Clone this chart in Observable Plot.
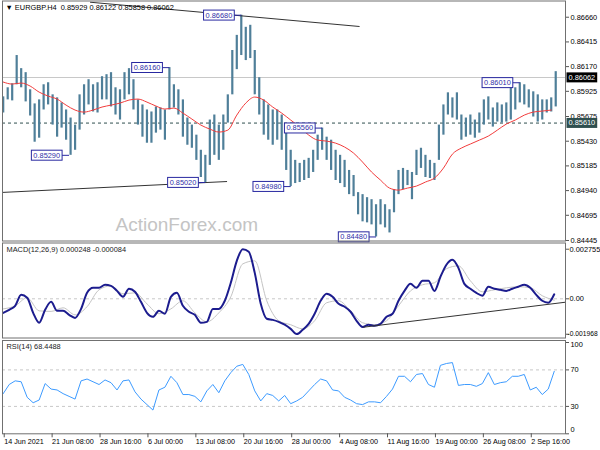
<!DOCTYPE html>
<html><head><meta charset="utf-8">
<script src="https://cdn.jsdelivr.net/npm/d3@7"></script>
<script src="https://cdn.jsdelivr.net/npm/@observablehq/plot@0.6"></script>
<style>
body{margin:0;background:#fff;}
#wrap{position:relative;width:600px;height:450px;overflow:hidden;background:#fff;}
#wrap svg{position:absolute;left:0;overflow:visible;}
</style></head><body><div id="wrap"></div>
<script>
// ---------- DATA ----------
const symbolTitle = "▼ EURGBP.H4  0.85929 0.86122 0.85858 0.86062";
const macdTitle = "MACD(12,26,9) 0.000248 -0.000084";
const rsiTitle = "RSI(14) 68.4488";
const watermark = "ActionForex.com";

// each drawn bar spans 3 H4 bars (bar index step)
const barStep = 3;
const highs = [
0.8587,0.8596,0.8600,0.8628,0.8615,0.8611,0.8594,0.8580,0.8584,0.8599,
0.8601,0.8589,0.8586,0.8581,0.8574,0.8566,0.8559,0.8589,0.8599,0.8604,
0.8599,0.8601,0.8607,0.8609,0.8611,0.8596,0.8594,0.8611,0.8615,0.8604,
0.8584,0.8579,0.8574,0.8572,0.8577,0.8576,0.8574,0.8616,0.8599,0.8594,
0.8584,0.8566,0.8559,0.8549,0.8534,0.8529,0.8564,0.8569,0.8559,0.8569,
0.8589,0.8633,0.8648,0.8668,0.8656,0.8658,0.8633,0.8606,0.8584,0.8579,
0.8574,0.8574,0.8569,0.8559,0.8534,0.8524,0.8521,0.8524,0.8526,0.8534,
0.8549,0.8556,0.8547,0.8544,0.8534,0.8529,0.8524,0.8514,0.8509,0.8492,
0.8490,0.8487,0.8485,0.8480,0.8485,0.8480,0.8475,0.8495,0.8514,0.8516,
0.8514,0.8512,0.8534,0.8536,0.8529,0.8524,0.8521,0.8559,0.8579,0.8591,
0.8586,0.8591,0.8569,0.8566,0.8569,0.8564,0.8571,0.8584,0.8587,0.8576,
0.8581,0.8579,0.8581,0.8601,0.8596,0.8601,0.8599,0.8594,0.8592,0.8589,
0.8584,0.8584,0.8586,0.8612];
const lows = [
0.8571,0.8584,0.8583,0.8599,0.8596,0.8582,0.8568,0.8542,0.8546,0.8574,
0.8579,0.8559,0.8547,0.8556,0.8544,0.8529,0.8534,0.8554,0.8569,0.8579,
0.8572,0.8571,0.8584,0.8584,0.8577,0.8569,0.8564,0.8584,0.8589,0.8574,
0.8559,0.8547,0.8541,0.8541,0.8551,0.8554,0.8544,0.8574,0.8576,0.8569,
0.8547,0.8539,0.8536,0.8524,0.8507,0.8502,0.8519,0.8529,0.8524,0.8534,
0.8561,0.8589,0.8614,0.8628,0.8623,0.8625,0.8589,0.8569,0.8549,0.8544,
0.8539,0.8544,0.8534,0.8514,0.8498,0.8501,0.8502,0.8504,0.8506,0.8512,
0.8524,0.8534,0.8524,0.8514,0.8504,0.8501,0.8497,0.8490,0.8488,0.8470,
0.8463,0.8462,0.8460,0.8448,0.8460,0.8457,0.8452,0.8472,0.8490,0.8495,
0.8499,0.8485,0.8509,0.8516,0.8507,0.8506,0.8504,0.8524,0.8549,0.8569,
0.8566,0.8564,0.8544,0.8547,0.8549,0.8546,0.8551,0.8559,0.8564,0.8557,
0.8562,0.8561,0.8562,0.8564,0.8574,0.8581,0.8579,0.8576,0.8567,0.8562,
0.8564,0.8571,0.8572,0.8577];

// moving average, one value every 6 H4 bars
const maStep = 6;
const maValues = [
0.86017,0.85997,0.86007,0.85977,0.85917,0.85878,0.85848,0.85788,0.85739,0.85719,
0.85739,0.85769,0.85788,0.85808,0.85838,0.85848,0.85818,0.85779,0.85749,0.85759,
0.85709,0.85650,0.85590,0.85550,0.85521,0.85540,0.85689,0.85808,0.85868,0.85838,
0.85769,0.85709,0.85640,0.85570,0.85491,0.85441,0.85431,0.85411,0.85372,0.85312,
0.85223,0.85124,0.85044,0.84965,0.84945,0.84965,0.84985,0.85025,0.85064,0.85163,
0.85302,0.85362,0.85402,0.85441,0.85481,0.85540,0.85600,0.85640,0.85689,0.85719,
0.85729,0.85739];

const currentPrice = 0.86062;
const levelPrice = 0.85610;

// price labels: H4 bar index and price
const labelIdx   = [44, 111, 159, 135, 192, 213, 249, 345];
const labelPrice = [0.85290, 0.86160, 0.86680, 0.85020, 0.84980, 0.85560, 0.84480, 0.86010];

// trend lines (H4 index, price)
const topLineIdx = [58, 238];
const topLinePrice = [0.86809, 0.86568];
const bottomLineIdx = [-0.47, 149.5];
const bottomLinePrice = [0.84922, 0.85030];

const mainTicks = [0.86660, 0.86415, 0.86170, 0.85925, 0.85675, 0.85430, 0.85185, 0.84940, 0.84695, 0.84445];

// MACD, one value every 4 H4 bars
const macdStep = 4;
const macdValues = [
-0.00078,-0.00061,-0.00039,0.00022,0.00006,-0.00078,-0.00133,-0.00061,-0.00017,-0.00067,
-0.00067,-0.00089,-0.00106,-0.00056,0.00033,0.00061,0.00061,0.00078,0.00072,0.00044,
0.00011,0.00056,0.00039,-0.00017,-0.00078,-0.00100,-0.00067,-0.00083,0.00011,0.00033,
-0.00039,-0.00072,-0.00089,-0.00133,-0.00128,-0.00056,-0.00056,-0.00011,0.00089,0.00211,
0.00275,0.00261,0.00144,-0.00028,-0.00111,-0.00117,-0.00128,-0.00144,-0.00167,-0.00196,
-0.00172,-0.00139,-0.00083,-0.00011,0.00028,0.00011,-0.00028,-0.00044,-0.00072,-0.00122,
-0.00156,-0.00144,-0.00150,-0.00139,-0.00100,-0.00083,-0.00011,0.00044,0.00083,0.00061,
0.00100,0.00100,0.00044,0.00122,0.00189,0.00217,0.00172,0.00083,0.00056,0.00033,
0.00017,0.00067,0.00056,0.00050,0.00044,0.00056,0.00067,0.00078,0.00061,0.00022,
-0.00011,-0.00022,0.00025];
// signal, one value every 8 H4 bars
const signalStep = 8;
const signalValues = [
-0.00056,-0.00039,0.00006,-0.00067,-0.00070,-0.00050,-0.00089,-0.00044,0.00050,0.00072,
0.00028,0.00033,-0.00028,-0.00083,-0.00056,-0.00011,-0.00078,-0.00128,-0.00078,0.00011,
0.00194,0.00211,-0.00011,-0.00122,-0.00144,-0.00167,-0.00122,-0.00022,-0.00011,-0.00067,
-0.00133,-0.00144,-0.00122,-0.00039,0.00044,0.00078,0.00089,0.00167,0.00183,0.00100,
0.00039,0.00050,0.00061,0.00067,0.00061,0.00017,-0.00008];
const macdTrendIdx = [240.4, 375.5];
const macdTrendValue = [-0.00158, -0.00019];
const macdTicks = [0.002755, 0, -0.001968];
const macdTickLabels = ["0.002755", "0.00", "-0.001968"];

// RSI, one value every 4 H4 bars
const rsiStep = 4;
const rsiValues = [
44,54,58,57,40,34,37,55,49,48,
44,41,38,58,60,57,54,59,56,48,
58,59,46,38,32,26,48,51,63,56,
43,43,41,35,47,54,45,58,67,74,
76,65,47,36,44,42,36,42,33,36,
40,47,54,60,58,48,47,40,37,33,
32,35,35,34,41,49,63,63,57,65,
66,54,51,75,77,78,53,54,54,52,
55,67,54,56,57,63,63,65,48,51,
43,49,68.4];
const rsiLevels = [70, 30];

// time axis: one label every 32 H4 bars
const timeTickIdx = [0,32,64,96,128,160,192,224,256,288,320,352];
const timeLabels = ["14 Jun 2021","21 Jun 08:00","28 Jun 16:00","6 Jul 00:00","13 Jul 08:00","20 Jul 16:00","28 Jul 00:00","4 Aug 08:00","11 Aug 16:00","19 Aug 00:00","26 Aug 08:00","2 Sep 16:00"];

// ---------- BUILD ----------
const FONT = "'Liberation Sans', Arial, sans-serif";
const xDomain = [-0.47, 375.53];
const fmt5 = d3.format(".5f");
const bars = highs.map((h, k) => ({i: k * barStep, high: h, low: lows[k]}));
const ma = maValues.map((v, j) => ({i: j * maStep, v}));
const labels = labelIdx.map((i, n) => ({i, p: labelPrice[n]}));
const trends = [
  {i1: topLineIdx[0], p1: topLinePrice[0], i2: topLineIdx[1], p2: topLinePrice[1]},
  {i1: bottomLineIdx[0], p1: bottomLinePrice[0], i2: bottomLineIdx[1], p2: bottomLinePrice[1]}
];
const macdData = macdValues.map((v, m) => ({i: m * macdStep, v}));
const signalData = signalValues.map((v, n) => ({i: n * signalStep, v}));
const rsiData = rsiValues.map((v, m) => ({i: m * rsiStep, v}));
const macdLabelMap = new Map(macdTicks.map((t, n) => [t, macdTickLabels[n]]));
const timeLabelMap = new Map(timeTickIdx.map((t, n) => [t, timeLabels[n]]));

const baseStyle = {fontFamily: FONT, fontSize: "7.4px", background: "transparent", color: "#000", overflow: "visible"};
const wrap = document.getElementById("wrap");

const main = Plot.plot({
  width: 600, height: 241,
  marginLeft: 2, marginRight: 35, marginTop: 0.5, marginBottom: 0.5,
  style: baseStyle,
  x: {domain: xDomain, axis: null, label: null},
  y: {domain: [0.84440, 0.86821], axis: null, label: null},
  marks: [
    Plot.text([watermark], {frameAnchor: "top-left", dx: 113, dy: 223.5, textAnchor: "start", lineAnchor: "middle", fontSize: 19, fill: "#c4c4c4"}),
    Plot.ruleY([currentPrice], {stroke: "#c8c8c8", strokeWidth: 1}),
    Plot.ruleY([levelPrice], {stroke: "#2f4f4f", strokeDasharray: "3,3", strokeWidth: 1}),
    Plot.ruleX(bars, {x: "i", y1: "low", y2: "high", stroke: "#4f7f99", strokeWidth: 2.2}),
    Plot.line(ma, {x: "i", y: "v", stroke: "#f23c3c", strokeWidth: 1, curve: "monotone-x"}),
    Plot.link(trends, {x1: "i1", y1: "p1", x2: "i2", y2: "p2", stroke: "#333", strokeWidth: 1, clip: true}),
    Plot.link(labels, {x1: d => d.i - 5, x2: "i", y1: "p", y2: "p", stroke: "#2828a0", strokeWidth: 1}),
    Plot.text(labels, {x: "i", y: "p", text: d => fmt5(d.p), textAnchor: "end", dx: -9, fill: "#3030a8", ariaDescription: "pricebox"}),
    Plot.frame({stroke: "#707070"}),
    Plot.axisY(mainTicks, {anchor: "right", tickSize: 3, tickPadding: 2, tickFormat: fmt5, stroke: "#555", fill: "#000", label: null}),
    Plot.text([currentPrice], {y: d => d, frameAnchor: "right", textAnchor: "start", dx: 3, text: d => fmt5(d), fill: "#fff", ariaDescription: "curbox"}),
    Plot.text([levelPrice], {y: d => d, frameAnchor: "right", textAnchor: "start", dx: 3, text: d => fmt5(d), fill: "#fff", ariaDescription: "levelbox"}),
    Plot.text([symbolTitle], {frameAnchor: "top-left", dx: 3, dy: 6.5, textAnchor: "start", lineAnchor: "middle", fill: "#000"})
  ]
});
main.style.top = "0px";
wrap.appendChild(main);

const macd = Plot.plot({
  width: 600, height: 96,
  marginLeft: 2, marginRight: 35, marginTop: 0.5, marginBottom: 0.5,
  style: baseStyle,
  x: {domain: xDomain, axis: null, label: null},
  y: {domain: [-0.002178, 0.0031], axis: null, label: null},
  marks: [
    Plot.ruleY([0], {stroke: "#c8c8c8", strokeDasharray: "3,3"}),
    Plot.line(signalData, {x: "i", y: "v", stroke: "#c4c4c4", strokeWidth: 1, curve: "monotone-x"}),
    Plot.line(macdData, {x: "i", y: "v", stroke: "#1c1c8e", strokeWidth: 2, curve: "monotone-x"}),
    Plot.link([{i1: macdTrendIdx[0], v1: macdTrendValue[0], i2: macdTrendIdx[1], v2: macdTrendValue[1]}], {x1: "i1", y1: "v1", x2: "i2", y2: "v2", stroke: "#333", strokeWidth: 1}),
    Plot.frame({stroke: "#707070"}),
    Plot.axisY(macdTicks, {anchor: "right", tickSize: 3, tickFormat: () => "", stroke: "#555", label: null}),
    Plot.text(macdTicks.slice(0, 2), {y: d => d, frameAnchor: "right", textAnchor: "start", dx: 4, text: d => macdLabelMap.get(d), fill: "#000"}),
    Plot.text(macdTicks.slice(2), {y: d => d, frameAnchor: "right", textAnchor: "start", dx: 2, text: d => macdLabelMap.get(d), fill: "#000", fontSize: 6.7}),
    Plot.text([macdTitle], {frameAnchor: "top-left", dx: 4, dy: 7, textAnchor: "start", lineAnchor: "middle", fill: "#222"})
  ]
});
macd.style.top = "242px";
wrap.appendChild(macd);

const rsi = Plot.plot({
  width: 600, height: 111,
  marginLeft: 2, marginRight: 35, marginTop: 1, marginBottom: 16.7,
  style: baseStyle,
  x: {domain: xDomain, axis: null, label: null},
  y: {domain: [0, 102.2], axis: null, label: null},
  marks: [
    Plot.ruleY(rsiLevels, {stroke: "#c8c8c8", strokeDasharray: "3,3"}),
    Plot.line(rsiData, {x: "i", y: "v", stroke: "#3d9bff", strokeWidth: 1}),
    Plot.frame({stroke: "#707070"}),
    Plot.axisY([100, 70, 30, 0], {anchor: "right", tickSize: 3, tickFormat: () => "", stroke: "#555", label: null}),
    Plot.text(rsiLevels, {y: d => d, frameAnchor: "right", textAnchor: "start", dx: 5, text: d => String(d), fill: "#000"}),
    Plot.text([100], {y: d => d, frameAnchor: "right", textAnchor: "start", dx: 5, dy: 2, text: d => String(d), fill: "#000"}),
    Plot.text([0], {y: d => d, frameAnchor: "right", textAnchor: "start", dx: 5, dy: -4, text: d => String(d), fill: "#000"}),
    Plot.axisX(timeTickIdx, {anchor: "bottom", tickSize: 4, tickPadding: 1, tickFormat: d => timeLabelMap.get(d), textAnchor: "start", dx: 1, stroke: "#555", fill: "#000", fontSize: 7.2, label: null}),
    Plot.text([rsiTitle], {frameAnchor: "top-left", dx: 4, dy: 6, textAnchor: "start", lineAnchor: "middle", fill: "#222"})
  ]
});
rsi.style.top = "339px";
wrap.appendChild(rsi);

// boxes behind label texts
function addBoxes(svg, label, fill, stroke, padX) {
  const ns = "http://www.w3.org/2000/svg";
  svg.querySelectorAll(`[aria-description="${label}"] text`).forEach(t => {
    const b = t.getBBox();
    const r = document.createElementNS(ns, "rect");
    r.setAttribute("x", b.x - padX);
    r.setAttribute("y", b.y - 0.5);
    r.setAttribute("width", b.width + 2 * padX);
    r.setAttribute("height", b.height + 1);
    r.setAttribute("fill", fill);
    r.setAttribute("stroke", stroke);
    r.setAttribute("stroke-width", 1);
    const tr = t.getAttribute("transform");
    if (tr) r.setAttribute("transform", tr);
    t.parentNode.insertBefore(r, t);
  });
}
addBoxes(main, "pricebox", "#fff", "#2828a0", 2);
addBoxes(main, "curbox", "#000", "none", 2);
addBoxes(main, "levelbox", "#2f4f4f", "none", 2);
</script></body></html>
